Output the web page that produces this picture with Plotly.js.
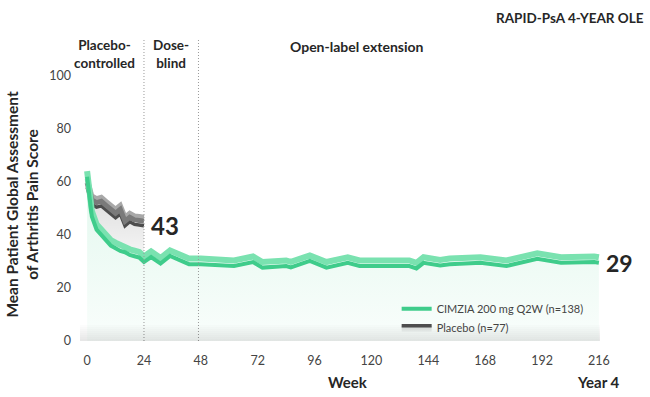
<!DOCTYPE html>
<html>
<head>
<meta charset="utf-8">
<script src="https://cdn.plot.ly/plotly-3.0.1.min.js"></script>
<style>html,body{margin:0;padding:0;background:#fff;}#chart{width:650px;height:397px;}</style>
</head>
<body>
<div id="chart"></div>
<script>
// ---- data ----
const cimziaWeeks = [0,1,2,4,6,8,10,12,14,16,18,20,22,24,27,31,35,43,48,62,70,74,84,86,90,94,101,110,115,136,139,142,149,153,166,177,190,200,214,216];
const cimziaValues = [62,53,47,42,40,37.5,36,35,34,33.5,32.5,32,31.5,29.8,31.7,29.2,32.1,29,29,28.3,29.8,27.7,28.3,27.8,29,30.2,27.7,29.5,28.3,28.3,27.4,29.5,28.5,29,29.5,28.3,31,29.5,29.8,29.5];
const placeboWeeks = [0,1,2,4,6,8,10,12,14,16,18,20,22,24];
const placeboValues = [58,54,51.5,50.5,51,49.5,48,46.5,48,43.5,45,44,43.8,43.5];
const xTickVals = [0,24,48,72,96,120,144,168,192,216];
const yTickVals = [0,20,40,60,80,100];
const phaseBounds = [24,47];
const cimziaName = 'CIMZIA 200 mg Q2W (n=138)';
const placeboName = 'Placebo (n=77)';
const endCimzia = '29';
const endPlacebo = '43';

// helper: cimzia restricted to placebo-controlled period (for the in-between fill)
const helperW = [], helperV = [];
cimziaWeeks.forEach((w,i)=>{ if (w <= placeboWeeks[placeboWeeks.length-1]) { helperW.push(w); helperV.push(cimziaValues[i]); }});

const FONT = 'Lato, "Open Sans", sans-serif';
const G_DARK = '#3fcc8b', G_LIGHT = '#7ae2b0';

const traces = [
  {x: cimziaWeeks, y: cimziaValues, type:'scatter', mode:'lines', line:{width:0, color:G_DARK},
   fill:'tozeroy', fillgradient:{type:'vertical', colorscale:[[0,'rgba(64,205,140,0.03)'],[1,'rgba(64,205,140,0.15)']]},
   showlegend:false, hoverinfo:'skip', yaxis:'y'},
  {x: helperW, y: helperV, type:'scatter', mode:'lines', line:{width:0, color:'rgba(0,0,0,0)'},
   showlegend:false, hoverinfo:'skip', yaxis:'y'},
  {x: placeboWeeks, y: placeboValues, type:'scatter', mode:'lines', name: placeboName, legendrank:2,
   line:{width:3.5, color:'#4d4d4d'},
   fill:'tonexty', fillgradient:{type:'vertical', colorscale:[[0,'rgba(0,0,0,0.03)'],[1,'rgba(0,0,0,0.16)']]},
   yaxis:'y'},
  {x: placeboWeeks, y: placeboValues, type:'scatter', mode:'lines', line:{width:5, color:'#a8a8a8'},
   showlegend:false, hoverinfo:'skip', yaxis:'y2'},
  {x: placeboWeeks, y: placeboValues, type:'scatter', mode:'lines', line:{width:5, color:'#7a7a7a'},
   showlegend:false, hoverinfo:'skip', yaxis:'y3'},
  {x: cimziaWeeks, y: cimziaValues, type:'scatter', mode:'lines', line:{width:6, color:G_LIGHT},
   showlegend:false, hoverinfo:'skip', yaxis:'y4'},
  {x: cimziaWeeks, y: cimziaValues, type:'scatter', mode:'lines', name: cimziaName, legendrank:1,
   line:{width:4, color:G_DARK}, yaxis:'y5'}
];

function overlay(shift){
  return {overlaying:'y', range:[-shift, 100-shift], visible:false, fixedrange:true};
}

const shapes = phaseBounds.map(b => ({type:'line', xref:'x', yref:'paper', x0:b, x1:b, y0:0, y1:1.143,
  line:{color:'#9a9a9a', width:1, dash:'1px,2px'}, layer:'above'}));
for (let k=1;k<=8;k++){
  shapes.push({type:'rect', xref:'x', yref:'y', x0:-3, x1:216.5, y0:-0.6, y1:k*0.75,
    fillcolor:'rgba(0,0,0,0.013)', line:{width:0}, layer:'above'});
}

const txt = (size) => ({family:FONT, size:size, color:'#262626', weight:700});

const annotations = [
  {text:'Placebo-<br>controlled', xref:'x', yref:'paper', x:7.3, y:1, yanchor:'middle', yshift:22.5, showarrow:false, font:txt(13.5)},
  {text:'Dose-<br>blind', xref:'x', yref:'paper', x:35.5, y:1, yanchor:'middle', yshift:22.5, showarrow:false, font:txt(13.5)},
  {text:'Open-label extension', xref:'x', yref:'paper', x:114, y:1, yanchor:'middle', yshift:30, showarrow:false, font:txt(14)},
  {text:endPlacebo, xref:'x', yref:'y', x:placeboWeeks[placeboWeeks.length-1], y:placeboValues[placeboValues.length-1],
   xanchor:'left', yanchor:'middle', xshift:5, showarrow:false, font:txt(24)},
  {text:endCimzia, xref:'x', yref:'y', x:cimziaWeeks[cimziaWeeks.length-1], y:cimziaValues[cimziaValues.length-1],
   xanchor:'left', yanchor:'middle', xshift:5, showarrow:false, font:txt(23)},
  {text:'Mean Patient Global Assessment<br>of Arthritis Pain Score', xref:'paper', yref:'paper', x:-0.112, y:0.515,
   xanchor:'center', yanchor:'middle', textangle:-90, showarrow:false, font:txt(15.5)},
  {text:'Week', xref:'paper', yref:'paper', x:0.51, y:-0.155, xanchor:'center', yanchor:'middle', showarrow:false, font:txt(15)},
  {text:'Year 4', xref:'x', yref:'paper', x:216, y:-0.155, xanchor:'center', yanchor:'middle', showarrow:false, font:txt(15)}
];

const layout = {
  width:650, height:397,
  margin:{l:80, r:44, t:76, b:56, pad:0},
  paper_bgcolor:'#fff', plot_bgcolor:'#fff',
  font:{family:FONT, color:'#333'},
  title:{text:'RAPID-PsA 4-YEAR OLE', xref:'container', x:0.99, xanchor:'right', yref:'container', y:0.955, yanchor:'middle',
         font:{family:FONT, size:13.5, color:'#262626', weight:700}},
  xaxis:{range:[-3,219], tickvals:xTickVals, showgrid:false, zeroline:false, showline:false, ticks:'',
         tickfont:{family:FONT, size:12.5, color:'#444'}, ticklabelstandoff:10, fixedrange:true},
  yaxis:{range:[0,100], tickvals:yTickVals, showgrid:false, zeroline:false, showline:false, ticks:'',
         tickfont:{family:FONT, size:12.5, color:'#444'}, ticklabelstandoff:8, fixedrange:true},
  yaxis2: overlay(3.2),
  yaxis3: overlay(1.7),
  yaxis4: overlay(2.1),
  yaxis5: overlay(0),
  showlegend:true,
  legend:{x:0.602, y:0.176, xanchor:'left', yanchor:'top', bgcolor:'rgba(0,0,0,0)', borderwidth:0, traceorder:'normal',
          font:{family:FONT, size:11, color:'#444'}, tracegroupgap:0},
  shapes:shapes,
  annotations:annotations
};

Plotly.newPlot('chart', traces, layout, {displayModeBar:false, staticPlot:true});
</script>
</body>
</html>
